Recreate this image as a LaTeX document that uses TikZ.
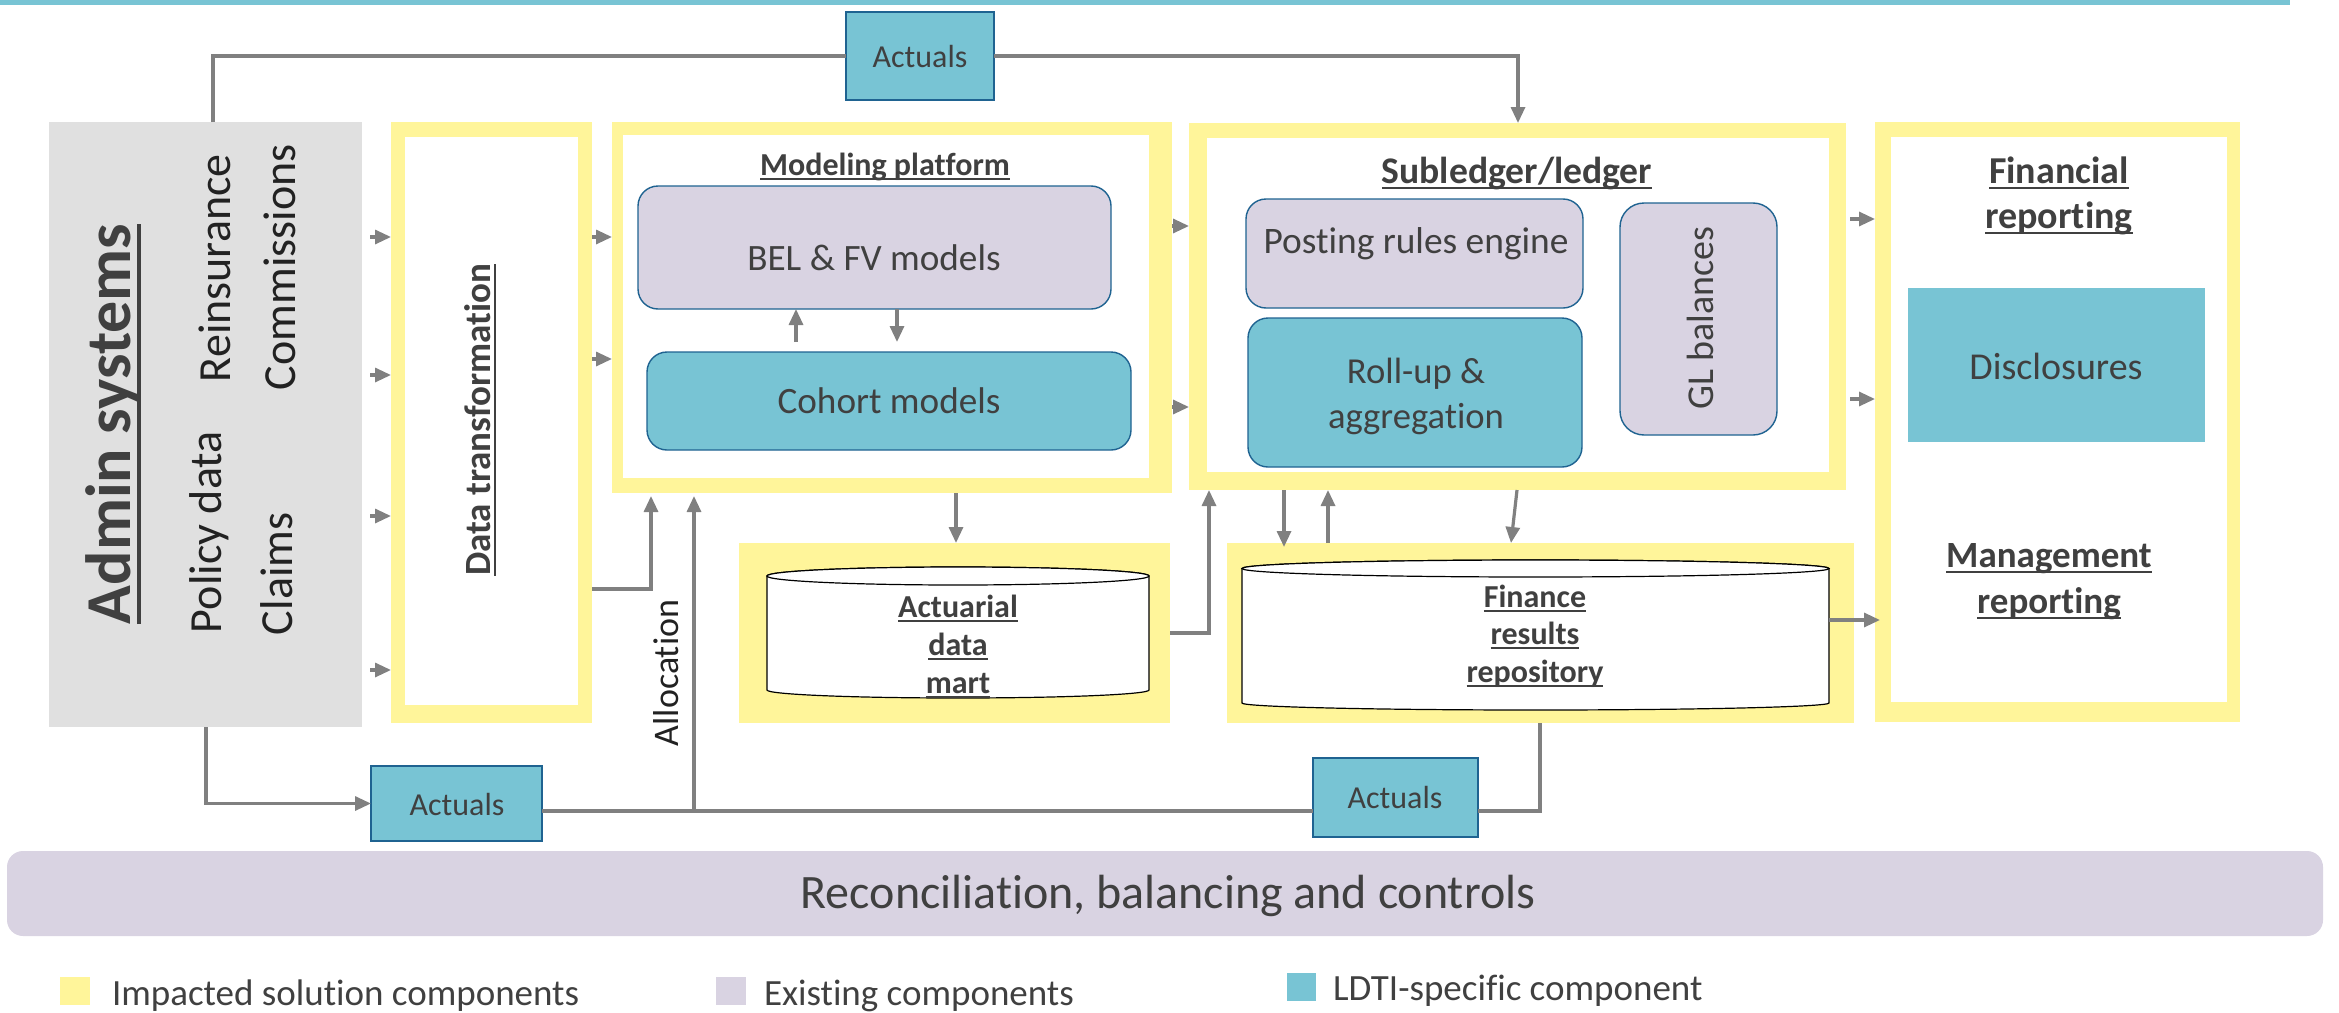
\documentclass[tikz,border=0pt]{standalone}
\usepackage{fontspec}
\setmainfont{Carlito}[Ligatures=NoCommon]
\usetikzlibrary{fit,arrows.meta}
\definecolor{yel}{HTML}{FFF59A}
\definecolor{cyn}{HTML}{78C4D4}
\definecolor{lav}{HTML}{D9D3E2}
\definecolor{admg}{HTML}{E0E0E0}
\definecolor{conn}{HTML}{808080}
\definecolor{bdr}{HTML}{1F6391}
\definecolor{txt}{HTML}{404040}
\definecolor{txtd}{HTML}{222222}
\newsavebox\ulbox
\newcommand{\ulx}[1]{\sbox\ulbox{#1}\rlap{\rule[-0.17em]{\wd\ulbox}{0.065em}}\usebox\ulbox}
\newcommand{\fs}[1]{\fontsize{#1}{#1}\selectfont}
\begin{document}
\begin{tikzpicture}[x=0.5pt,y=-0.5pt,
  area/.style={inner sep=0pt, outer sep=0pt, draw=none},
  yfr/.style={area, fill=yel},
  wfr/.style={area, fill=white},
  rbox/.style={inner sep=0pt, outer sep=0pt, draw=bdr, line width=0.7pt, rounded corners=10pt},
  abox/.style={inner sep=0pt, outer sep=0pt, draw=bdr, line width=0.7pt, fill=cyn},
  lbl/.style={inner sep=0pt, outer sep=0pt, text=txt, anchor=base},
  rlbl/.style={lbl, text=txtd, font=\fs{23}, rotate=90, anchor=base west},
  conline/.style={draw=conn, line width=1.6pt},
  arr/.style={conline, -{Triangle[length=8pt,width=7pt]}},
  cyl/.style={draw=black, line width=0.6pt, fill=white},
]
\useasboundingbox (0,0) rectangle (2339,1012);
\fill[cyn] (0,0) rectangle (2290,5);

% main areas
\node[area, fill=admg, fit={(49,122)(362,727)}] (admin) {};
\node[yfr, fit={(391,122)(592,723)}] (dt) {};
\node[wfr, fit={(405,137)(578,705)}] (dtin) {};
\node[yfr, fit={(612,122)(1172,493)}] (mod) {};
\node[wfr, fit={(623,135)(1149,478)}] (modin) {};
\node[yfr, fit={(1189,123)(1846,490)}] (sub) {};
\node[wfr, fit={(1207,138)(1829,472)}] (subin) {};
\node[yfr, fit={(1875,122)(2240,722)}] (rep) {};
\node[wfr, fit={(1891,137)(2227,702)}] (repin) {};
\node[yfr, fit={(739,543)(1170,723)}] (adm) {};
\node[yfr, fit={(1227,543)(1854,723)}] (frr) {};

% inner components
\node[rbox, fill=lav, fit={(638,186)(1111,309)}] (bel) {};
\node[rbox, fill=cyn, fit={(647,352)(1131,450)}] (coh) {};
\node[rbox, fill=lav, fit={(1246,199)(1583,308)}] (pre) {};
\node[rbox, fill=cyn, fit={(1248,318)(1582,467)}] (rua) {};
\node[rbox, fill=lav, rounded corners=12pt, fit={(1620,203)(1777,435)}] (glb) {};
\node[area, fill=cyn, fit={(1908,288)(2205,442)}] (disc) {};

% Actuals boxes
\node[abox, fit={(846,12)(994,100)}] (acttop) {};
\node[abox, fit={(371,766)(542,841)}] (actbl) {};
\node[abox, fit={(1313,758)(1478,837)}] (actbr) {};

% reconciliation bar
\node[area, fill=lav, rounded corners=8pt, fit={(7,851)(2323,936)}] (rbc) {};

% cylinders
\filldraw[cyl] (767,576) -- (767,690) arc[start angle=180, end angle=360, x radius=95.5pt, y radius=4pt] -- (1149,576) arc[start angle=0, end angle=180, x radius=95.5pt, y radius=4.5pt] -- cycle;
\draw[cyl] (958,576) ellipse[x radius=95.5pt, y radius=4.5pt];
\filldraw[cyl] (1242,568.5) -- (1242,703) arc[start angle=180, end angle=360, x radius=146.75pt, y radius=3.5pt] -- (1829,568.5) arc[start angle=0, end angle=180, x radius=146.75pt, y radius=4.25pt] -- cycle;
\draw[cyl] (1535.5,568.5) ellipse[x radius=146.75pt, y radius=4.25pt];
\node[area, fit={(1242,560)(1829,710)}] (fcyl) {};

% texts: admin
\node[lbl, font=\fs{32}\bfseries, rotate=90] (tadmin) at (130,424) {\ulx{Admin systems}};
\node[rlbl] (tpol) at (221,633) {Policy data};
\node[rlbl] (trei) at (230,382) {Reinsurance};
\node[rlbl] (tcla) at (292,635) {Claims};
\node[rlbl] (tcom) at (295,390) {Commissions};
\node[lbl, font=\fs{18.5}\bfseries, rotate=90] (tdt) at (490,420) {\ulx{Data transformation}};
\node[lbl, text=txtd, font=\fs{18}, rotate=90] (talloc) at (678,673) {Allocation};

% modeling
\node[lbl, font=\fs{16}\bfseries] (tmod) at (885,175) {\ulx{Modeling platform}};
\node[lbl, font=\fs{18.6}] (tbel) at (874,270) {BEL \& FV models};
\node[lbl, font=\fs{18.6}] (tcoh) at (889,413) {Cohort models};

% subledger
\node[lbl, font=\fs{18.8}\bfseries] (tsub) at (1517,183) {\ulx{Subledger/ledger}};
\node[lbl, font=\fs{18.7}] (tpre) at (1416,253) {Posting rules engine};
\node[lbl, font=\fs{18.3}] (trua1) at (1416,383) {Roll-up \&};
\node[lbl, font=\fs{18.3}] (trua2) at (1416,428) {aggregation};
\node[lbl, font=\fs{19}, rotate=90] (tglb) at (1713,318) {GL balances};

% reporting
\node[lbl, font=\fs{19}\bfseries] (tfin1) at (2059,183) {\ulx{Financial}};
\node[lbl, font=\fs{19}\bfseries] (tfin2) at (2059,228) {\ulx{reporting}};
\node[lbl, font=\fs{19}] (tdisc) at (2056,379) {Disclosures};
\node[lbl, font=\fs{18.5}\bfseries] (tman1) at (2049,567) {\ulx{Management}};
\node[lbl, font=\fs{18.5}\bfseries] (tman2) at (2049,613) {\ulx{reporting}};

% data stores
\node[lbl, font=\fs{16}\bfseries] (tadm1) at (958,617) {\ulx{Actuarial}};
\node[lbl, font=\fs{16}\bfseries] (tadm2) at (958,655) {\ulx{data}};
\node[lbl, font=\fs{16}\bfseries] (tadm3) at (958,693) {\ulx{mart}};
\node[lbl, font=\fs{16}\bfseries] (tfrr1) at (1535,607) {\ulx{Finance}};
\node[lbl, font=\fs{16}\bfseries] (tfrr2) at (1535,644) {\ulx{results}};
\node[lbl, font=\fs{16}\bfseries] (tfrr3) at (1535,682) {\ulx{repository}};

% actuals labels
\node[lbl, font=\fs{16}] (tact1) at (920,67) {Actuals};
\node[lbl, font=\fs{16}] (tact2) at (457,815) {Actuals};
\node[lbl, font=\fs{16}] (tact3) at (1395,808) {Actuals};

\node[lbl, font=\fs{24}] (trbc) at (1168,908) {Reconciliation, balancing and controls};

% legend
\fill[yel] (60,977) rectangle (90,1005);
\fill[lav] (716,977) rectangle (746,1005);
\fill[cyn] (1287,973) rectangle (1316,1001);
\node[lbl, font=\fs{18.5}, anchor=base west] (leg1) at (112,1005) {Impacted solution components};
\node[lbl, font=\fs{18.5}, anchor=base west] (leg2) at (764,1005) {Existing components};
\node[lbl, font=\fs{18.5}, anchor=base west] (leg3) at (1333,1000) {LDTI-specific component};

% connectors
\draw[conline] (admin.north -| 213,0) |- (acttop.west);
\draw[arr] (acttop.east) -| (sub.north -| 1518,0);
\foreach \yy in {237,375,516,670} {
  \draw[arr, shorten <=4pt] (admin.east |- 0,\yy) -- (dt.west |- 0,\yy);
}
\foreach \yy in {237,359} {
  \draw[arr] (dt.east |- 0,\yy) -- (mod.west |- 0,\yy);
}
\foreach \yy in {226,407} {
  \draw[arr] (mod.east |- 0,\yy) -- (sub.west |- 0,\yy);
}
\foreach \yy in {219,399} {
  \draw[arr, shorten <=2pt] (sub.east |- 0,\yy) -- (rep.west |- 0,\yy);
}
\draw[arr, shorten <=5pt] (coh.north -| 796,0) -- (bel.south -| 796,0);
\draw[arr, shorten >=5pt] (bel.south -| 897,0) -- (coh.north -| 897,0);
\draw[arr, shorten >=1.5pt] (dt.east |- 0,589) -| (mod.south -| 651,0);
\coordinate (alloc) at (694,811);
\draw[arr, shorten >=1.5pt] (alloc) -- (mod.south -| alloc);
\draw[arr] (admin.south -| 206,0) |- (actbl.west);
\draw[conline] (actbl.east |- 0,811) -- (actbr.west |- 0,811);
\draw[conline] (actbr.east |- 0,811) -| (frr.south -| 1540,0);
\draw[arr] (mod.south -| 956,0) -- (adm.north -| 956,0);
\draw[arr] (adm.east |- 0,633) -| (sub.south -| 1209,0);
\draw[arr] (sub.south -| 1284,0) -- ([yshift=-2pt]frr.north -| 1284,0);
\draw[arr] (frr.north -| 1328,0) -- (sub.south -| 1328,0);
\draw[arr] (sub.south -| 1517,0) -- (frr.north -| 1511,0);
\draw[arr, shorten >=-2.5pt] (fcyl.east |- 0,620) -- (rep.west |- 0,620);
\end{tikzpicture}
\end{document}
